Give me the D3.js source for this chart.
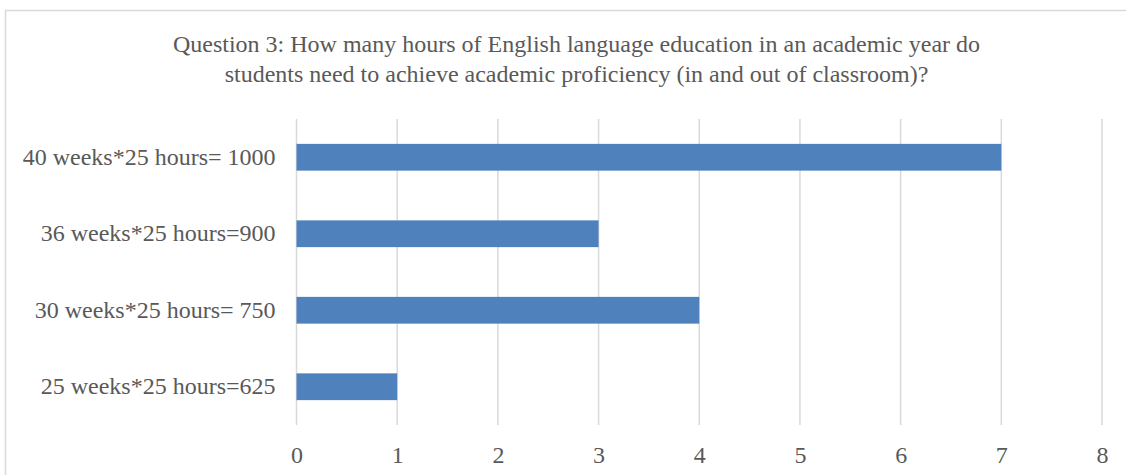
<!DOCTYPE html>
<html><head><meta charset="utf-8">
<script src="https://cdn.jsdelivr.net/npm/d3@7"></script>
<style>body{margin:0;background:#fff}svg{display:block}</style>
</head><body>
<script>
const categories = ["40 weeks*25 hours= 1000","36 weeks*25 hours=900","30 weeks*25 hours= 750","25 weeks*25 hours=625"];
const values = [7,3,4,1];
const tickValues = [0,1,2,3,4,5,6,7,8];
const titleLines = ["Question 3: How many hours of English language education in an academic year do","students need to achieve academic proficiency (in and out of classroom)?"];

const W=1126,H=475;
const svg=d3.select("body").append("svg").attr("width",W).attr("height",H);
const font="'Liberation Serif','Times New Roman',serif";
svg.append("rect").attr("x",5.5).attr("y",10.5).attr("width",1140).attr("height",500)
  .attr("fill","none").attr("stroke","#d9d9d9").attr("stroke-width",1.5);

const x=d3.scaleLinear().domain([0,8]).range([296.5,1102]);
const y=d3.scaleBand().domain(categories).range([119,425]).paddingInner(0.65).paddingOuter(0.325);

svg.append("g").selectAll("line").data(tickValues).join("line")
  .attr("x1",d=>x(d)).attr("x2",d=>x(d)).attr("y1",119).attr("y2",425)
  .attr("stroke","#d9d9d9").attr("stroke-width",1.5);

svg.append("g").selectAll("rect").data(values).join("rect")
  .attr("x",x(0)).attr("y",(d,i)=>y(categories[i]))
  .attr("width",d=>x(d)-x(0)).attr("height",y.bandwidth())
  .attr("fill","#4f81bd");

const xa=svg.append("g").attr("transform","translate(0,440)")
  .call(d3.axisBottom(x).tickValues(tickValues).tickSize(0).tickFormat(d3.format("d")));
xa.select(".domain").remove();
xa.selectAll("text").attr("font-family",font).attr("font-size",24).attr("fill","#595959").attr("dy","0.85em");

const ya=svg.append("g").attr("transform",`translate(${x(0)-21},0)`)
  .call(d3.axisLeft(y).tickSize(0));
ya.select(".domain").remove();
ya.selectAll("text").attr("font-family",font).attr("font-size",24).attr("fill","#595959").attr("x",0);

svg.append("g").selectAll("text").data(titleLines).join("text")
  .attr("x",576.5).attr("y",(d,i)=>52+i*30).attr("text-anchor","middle")
  .attr("font-family",font).attr("font-size",24).attr("fill","#595959").text(d=>d);
</script>
</body></html>
